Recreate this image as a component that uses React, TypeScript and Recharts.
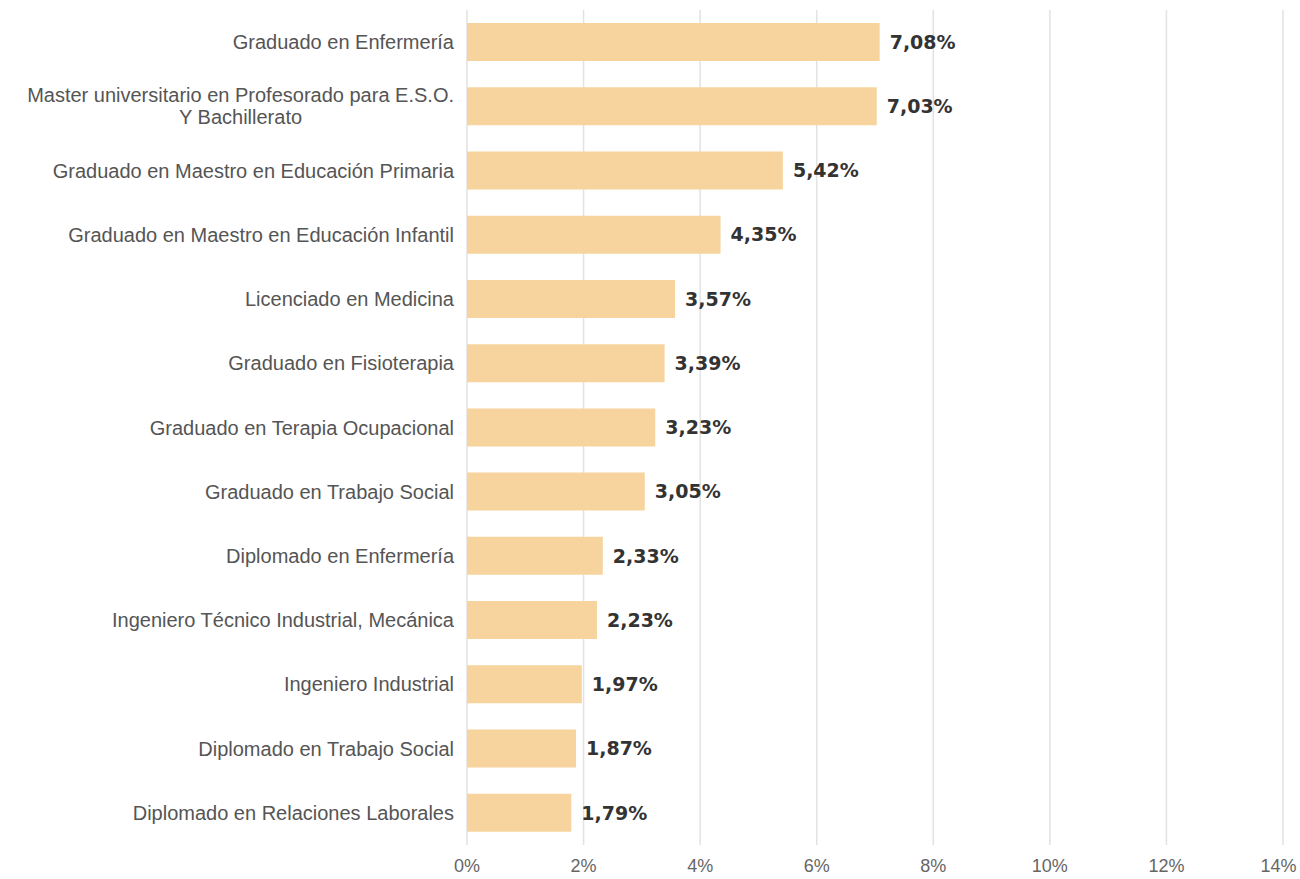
import { Bar, BarChart, CartesianGrid, LabelList, XAxis, YAxis } from 'recharts';

const categories = [
  'Graduado en Enfermería',
  'Master universitario en Profesorado para E.S.O.|Y Bachillerato',
  'Graduado en Maestro en Educación Primaria',
  'Graduado en Maestro en Educación Infantil',
  'Licenciado en Medicina',
  'Graduado en Fisioterapia',
  'Graduado en Terapia Ocupacional',
  'Graduado en Trabajo Social',
  'Diplomado en Enfermería',
  'Ingeniero Técnico Industrial, Mecánica',
  'Ingeniero Industrial',
  'Diplomado en Trabajo Social',
  'Diplomado en Relaciones Laborales',
];

const shares = [7.08, 7.03, 5.42, 4.35, 3.57, 3.39, 3.23, 3.05, 2.33, 2.23, 1.97, 1.87, 1.79];

const xTicks = [0, 2, 4, 6, 8, 10, 12, 14];

const data = categories.map((name, i) => ({ name, value: shares[i] }));

const labelFont = '20px "Liberation Sans", Arial, sans-serif';

let ctx: CanvasRenderingContext2D | null = null;
function measure(text: string) {
  if (!ctx) ctx = document.createElement('canvas').getContext('2d');
  if (!ctx) return text.length * 9;
  ctx.font = labelFont;
  return ctx.measureText(text).width;
}

function CategoryTick({ x, y, payload }: any) {
  const lines = String(payload.value).split('|');
  const right = x - 5;
  if (lines.length === 1) {
    return (
      <text x={right} y={y} dy="0.35em" textAnchor="end" fill="#555" style={{ font: labelFont }}>
        {lines[0]}
      </text>
    );
  }
  const w = Math.max(...lines.map(measure));
  const cx = right - w / 2;
  return (
    <text x={cx} y={y} textAnchor="middle" fill="#555" style={{ font: labelFont }}>
      {lines.map((l, i) => (
        <tspan key={i} x={cx} dy={i === 0 ? '-0.2em' : '1.1em'}>{l}</tspan>
      ))}
    </text>
  );
}

export default function App() {
  return (
    <div style={{ position: 'absolute', left: 0, top: 0, background: '#fff' }}>
      <BarChart
        width={1300}
        height={879}
        data={data}
        layout="vertical"
        margin={{ top: 10, right: 17, bottom: 0, left: 0 }}
        barSize={38}
      >
        <CartesianGrid horizontal={false} stroke="#e2e2e2" strokeWidth={1.5} />
        <XAxis
          type="number"
          domain={[0, 14]}
          ticks={xTicks}
          tickFormatter={(v) => `${v}%`}
          axisLine={false}
          tickLine={false}
          height={34}
          tickMargin={8}
          tick={{ fill: '#666', fontSize: 18, fontFamily: '"Liberation Sans", Arial, sans-serif' }}
        />
        <YAxis
          type="category"
          dataKey="name"
          width={467}
          axisLine={false}
          tickLine={false}
          tick={<CategoryTick />}
          interval={0}
        />
        <Bar dataKey="value" fill="#F7D49E" isAnimationActive={false}>
          <LabelList
            dataKey="value"
            position="right"
            offset={10}
            formatter={(v: any) => `${Number(v).toFixed(2).replace('.', ',')}%`}
            style={{ fill: '#333', fontSize: 19, fontWeight: 700, fontFamily: '"DejaVu Sans", Verdana, sans-serif' }}
          />
        </Bar>
      </BarChart>
    </div>
  );
}
